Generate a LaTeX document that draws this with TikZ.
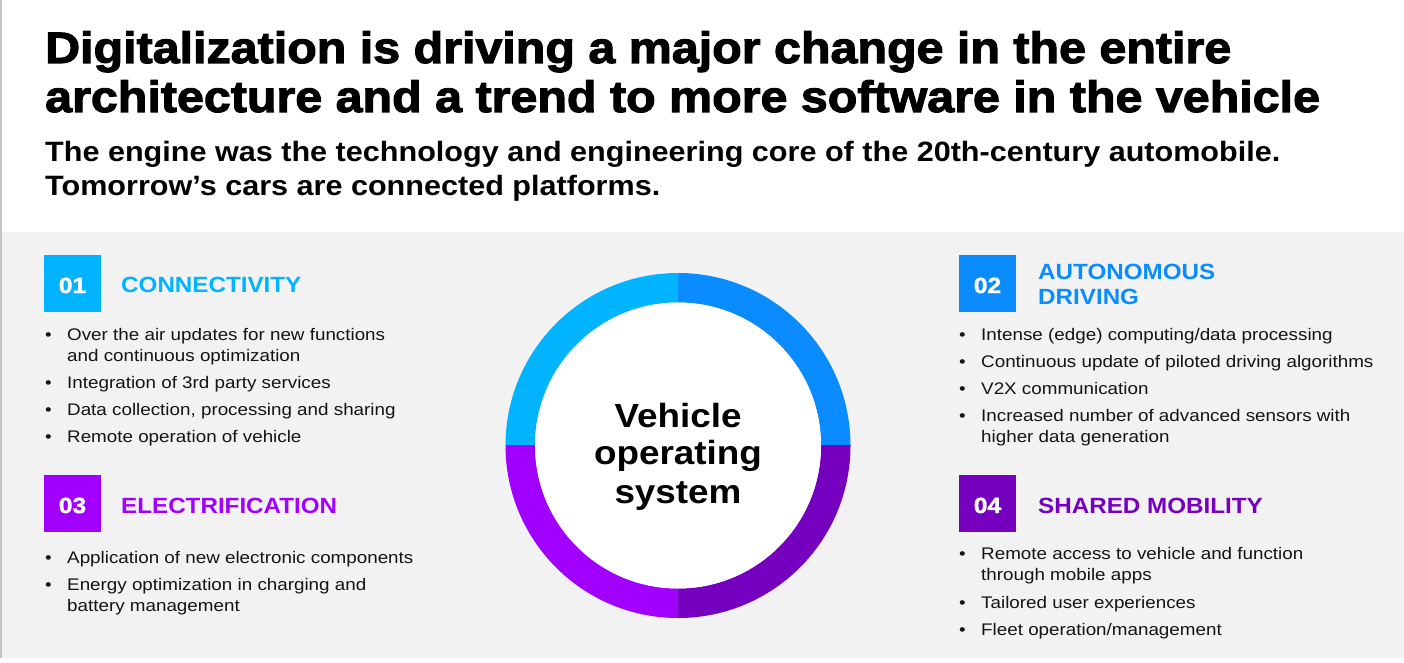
\documentclass[tikz,border=0pt]{standalone}
\usepackage{fontspec}
\setmainfont{Liberation Sans}[FakeStretch=1.1]
\newfontfamily\bodyfont{Liberation Sans}[FakeStretch=1.12]
\newfontfamily\boldfont{Liberation Sans Bold}[FakeStretch=1.1]
\newfontfamily\subfont{Liberation Sans Bold}[FakeStretch=1.092]
\newfontfamily\heavyfont{Liberation Sans Bold}[FakeStretch=1.1,FakeBold=2.5]
\newfontfamily\numfont{Liberation Sans Bold}[FakeStretch=1.12,FakeBold=1.5]

\definecolor{bandgray}{HTML}{F2F2F2}
\definecolor{edgegray}{HTML}{C4C4C4}
\definecolor{inkblack}{HTML}{141414}
\definecolor{cconn}{HTML}{00B4FF}
\definecolor{cauto}{HTML}{0A8CFF}
\definecolor{celec}{HTML}{A100FF}
\definecolor{cshare}{HTML}{7500C0}

\tikzset{
  titletext/.style={anchor=base west, inner sep=0pt, font=\heavyfont\fontsize{44}{49}\selectfont},
  subtext/.style={anchor=base west, inner sep=0pt, font=\subfont\fontsize{28}{33}\selectfont},
  numbox/.style={minimum width=57pt, minimum height=57pt, inner sep=0pt, anchor=north west},
  numtext/.style={anchor=base, inner sep=0pt, text=white, font=\numfont\fontsize{22}{24}\selectfont},
  headtext/.style={anchor=base west, inner sep=0pt, font=\boldfont\fontsize{22}{25}\selectfont},
  bodytext/.style={anchor=base west, inner sep=0pt, text=inkblack, font=\bodyfont\fontsize{16.8}{21}\selectfont},
  bullet/.style={anchor=base west, inner sep=0pt, text=inkblack, font=\bodyfont\fontsize{16.8}{21}\selectfont},
  centertext/.style={anchor=base, inner sep=0pt, font=\boldfont\fontsize{33.5}{38}\selectfont},
}

\begin{document}
\begin{tikzpicture}[x=1pt, y=-1pt]
\useasboundingbox (0,0) rectangle (1404,663);
\fill[white] (0,0) rectangle (1404,663);
% lower grey band and left rule
\fill[bandgray] (0,232) rectangle (1404,657.5);
\fill[edgegray] (0,0) rectangle (1.5,657.5);

% headline
\node[titletext] (t1) at (45,63) {Digitalization is driving a major change in the entire};
\node[titletext] (t2) at (45,112) {architecture and a trend to more software in the vehicle};
\node[subtext] (s1) at (45,162) {The engine was the technology and engineering core of the 20th-century automobile.};
\node[subtext] (s2) at (45,195) {Tomorrow’s cars are connected platforms.};

% ring of four quadrants
\coordinate (c) at (678,445.5);
\begin{scope}
  \clip (c) rectangle ++(-200,-200);
  \fill[cconn, even odd rule] (c) circle[radius=172.5] (c) circle[radius=143];
\end{scope}
\begin{scope}
  \clip (c) rectangle ++(200,-200);
  \fill[cauto, even odd rule] (c) circle[radius=172.5] (c) circle[radius=143];
\end{scope}
\begin{scope}
  \clip (c) rectangle ++(-200,200);
  \fill[celec, even odd rule] (c) circle[radius=172.5] (c) circle[radius=143];
\end{scope}
\begin{scope}
  \clip (c) rectangle ++(200,200);
  \fill[cshare, even odd rule] (c) circle[radius=172.5] (c) circle[radius=143];
\end{scope}
\fill[white] (c) circle[radius=143];
\node[centertext] (v1) at (678,427) {Vehicle};
\node[centertext] (v2) at (678,464) {operating};
\node[centertext] (v3) at (678,503) {system};

% 01 connectivity
\node[numbox, fill=cconn] (b1) at (44,255) {};
\node[numtext] (n1) at (72.5,293) {01};
\node[headtext, text=cconn] (h1) at (121,292) {CONNECTIVITY};
\node[bullet] (p1a) at (45,340) {•};
\node[bodytext] (l1a) at (67,340) {Over the air updates for new functions};
\node[bodytext] (l1b) at (67,361) {and continuous optimization};
\node[bullet] (p1b) at (45,388) {•};
\node[bodytext] (l1c) at (67,388) {Integration of 3rd party services};
\node[bullet] (p1c) at (45,415) {•};
\node[bodytext] (l1d) at (67,415) {Data collection, processing and sharing};
\node[bullet] (p1d) at (45,442) {•};
\node[bodytext] (l1e) at (67,442) {Remote operation of vehicle};

% 02 autonomous driving
\node[numbox, fill=cauto] (b2) at (959,255) {};
\node[numtext] (n2) at (987.5,293) {02};
\node[headtext, text=cauto] (h2a) at (1038,279) {AUTONOMOUS};
\node[headtext, text=cauto] (h2b) at (1038,304) {DRIVING};
\node[bullet] (p2a) at (959,340) {•};
\node[bodytext] (l2a) at (981,340) {Intense (edge) computing/data processing};
\node[bullet] (p2b) at (959,367) {•};
\node[bodytext] (l2b) at (981,367) {Continuous update of piloted driving algorithms};
\node[bullet] (p2c) at (959,394) {•};
\node[bodytext] (l2c) at (981,394) {V2X communication};
\node[bullet] (p2d) at (959,421) {•};
\node[bodytext] (l2d) at (981,421) {Increased number of advanced sensors with};
\node[bodytext] (l2e) at (981,442) {higher data generation};

% 03 electrification
\node[numbox, fill=celec] (b3) at (44,475) {};
\node[numtext] (n3) at (72.5,513) {03};
\node[headtext, text=celec] (h3) at (121,513) {ELECTRIFICATION};
\node[bullet] (p3a) at (45,563) {•};
\node[bodytext] (l3a) at (67,563) {Application of new electronic components};
\node[bullet] (p3b) at (45,590) {•};
\node[bodytext] (l3b) at (67,590) {Energy optimization in charging and};
\node[bodytext] (l3c) at (67,611) {battery management};

% 04 shared mobility
\node[numbox, fill=cshare] (b4) at (959,475) {};
\node[numtext] (n4) at (987.5,513) {04};
\node[headtext, text=cshare] (h4) at (1038,513) {SHARED MOBILITY};
\node[bullet] (p4a) at (959,559) {•};
\node[bodytext] (l4a) at (981,559) {Remote access to vehicle and function};
\node[bodytext] (l4b) at (981,580) {through mobile apps};
\node[bullet] (p4b) at (959,608) {•};
\node[bodytext] (l4c) at (981,608) {Tailored user experiences};
\node[bullet] (p4c) at (959,635) {•};
\node[bodytext] (l4d) at (981,635) {Fleet operation/management};
\end{tikzpicture}
\end{document}
